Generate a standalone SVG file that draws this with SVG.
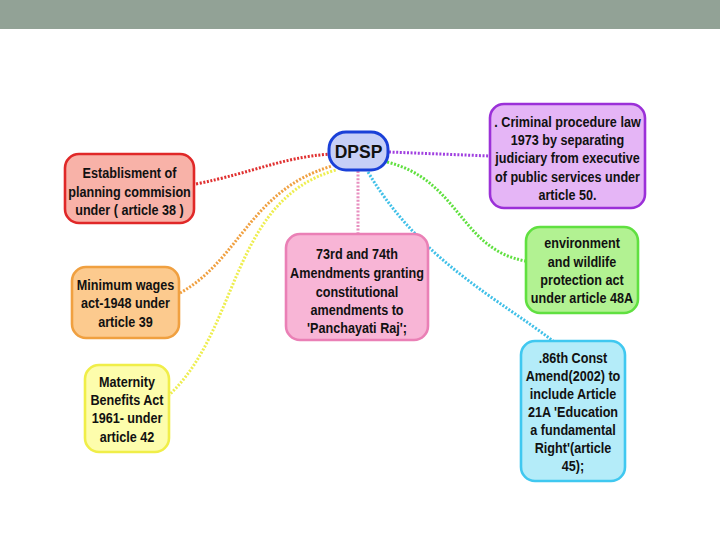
<svg xmlns="http://www.w3.org/2000/svg" width="720" height="540" viewBox="0 0 720 540">
<style>
.t{font-family:"Liberation Sans",Arial,sans-serif;font-weight:bold;font-size:14.5px;fill:#111;text-anchor:middle}
.c{fill:none;stroke-width:3;stroke-dasharray:2 1.6}
.n{stroke-width:2.6}
</style>
<rect x="0" y="0" width="720" height="540" fill="#fff"/>
<rect x="0" y="0" width="720" height="29" fill="#92a296"/>
<g id="connectors">
<path class="c" stroke="#e03030" d="M196,184 C255,172 280,158 330,154"/>
<path class="c" stroke="#f0a040" d="M180,293 C240,260 250,190 332,166"/>
<path class="c" stroke="#eeee50" d="M168,396 C240,330 230,200 336,170"/>
<path class="c" stroke="#e890c0" d="M358,171 L358,234"/>
<path class="c" stroke="#a040e0" d="M389,152 L490,156"/>
<path class="c" stroke="#60e040" d="M387,162 C460,180 460,250 526,261"/>
<path class="c" stroke="#40c0e8" d="M368,172 C420,260 500,300 553,341"/>
</g>
<g id="dpsp">
<rect x="329" y="132" width="59" height="38" rx="17" fill="#c6cff7" stroke="#1a40d8" stroke-width="3"/>
<text class="t" x="358.5" y="157.5" style="font-size:17.5px">DPSP</text>
</g>
<g id="planning">
<rect class="n" x="65" y="154" width="129" height="69" rx="14" fill="#f8b2a8" stroke="#e02828"/>
<g transform="translate(129.5 0) scale(0.87 1)">
<text class="t" x="0" y="178">Establisment of</text>
<text class="t" x="0" y="197">planning commision</text>
<text class="t" x="0" y="215">under ( article 38 )</text>
</g>
</g>
<g id="criminal">
<rect class="n" x="490" y="104" width="155" height="104" rx="14" fill="#e5b5f6" stroke="#9b30d8"/>
<g transform="translate(567.5 0) scale(0.87 1)">
<text class="t" x="0" y="127">. Criminal procedure law</text>
<text class="t" x="0" y="145">1973 by separating</text>
<text class="t" x="0" y="163">judiciary from executive</text>
<text class="t" x="0" y="182">of public services under</text>
<text class="t" x="0" y="200">article 50.</text>
</g>
</g>
<g id="panchayati">
<rect class="n" x="286" y="234" width="142" height="106" rx="14" fill="#f8b5d6" stroke="#ea80b6"/>
<g transform="translate(357 0) scale(0.87 1)">
<text class="t" x="0" y="259">73rd and 74th</text>
<text class="t" x="0" y="278">Amendments granting</text>
<text class="t" x="0" y="297">constitutional</text>
<text class="t" x="0" y="315">amendments to</text>
<text class="t" x="0" y="333">'Panchayati Raj';</text>
</g>
</g>
<g id="environment">
<rect class="n" x="526" y="227" width="112" height="86" rx="14" fill="#b2f292" stroke="#60e040"/>
<g transform="translate(582 0) scale(0.87 1)">
<text class="t" x="0" y="248">environment</text>
<text class="t" x="0" y="267">and wildlife</text>
<text class="t" x="0" y="285">protection act</text>
<text class="t" x="0" y="303">under article 48A</text>
</g>
</g>
<g id="wages">
<rect class="n" x="72" y="267" width="107" height="71" rx="14" fill="#fcca8e" stroke="#f0a040"/>
<g transform="translate(125.5 0) scale(0.87 1)">
<text class="t" x="0" y="290">Minimum wages</text>
<text class="t" x="0" y="308">act-1948 under</text>
<text class="t" x="0" y="327">article 39</text>
</g>
</g>
<g id="maternity">
<rect class="n" x="85" y="365" width="84" height="87" rx="14" fill="#fdfdac" stroke="#f0ee48"/>
<g transform="translate(127 0) scale(0.87 1)">
<text class="t" x="0" y="387">Maternity</text>
<text class="t" x="0" y="405">Benefits Act</text>
<text class="t" x="0" y="423">1961- under</text>
<text class="t" x="0" y="442">article 42</text>
</g>
</g>
<g id="education">
<rect class="n" x="521" y="341" width="104" height="140" rx="14" fill="#b4ecf9" stroke="#40c8f0"/>
<g transform="translate(573 0) scale(0.87 1)">
<text class="t" x="0" y="363">.86th Const</text>
<text class="t" x="0" y="381">Amend(2002) to</text>
<text class="t" x="0" y="399">include Article</text>
<text class="t" x="0" y="417">21A 'Education</text>
<text class="t" x="0" y="435">a fundamental</text>
<text class="t" x="0" y="453">Right'(article</text>
<text class="t" x="0" y="471">45);</text>
</g>
</g>
</svg>
